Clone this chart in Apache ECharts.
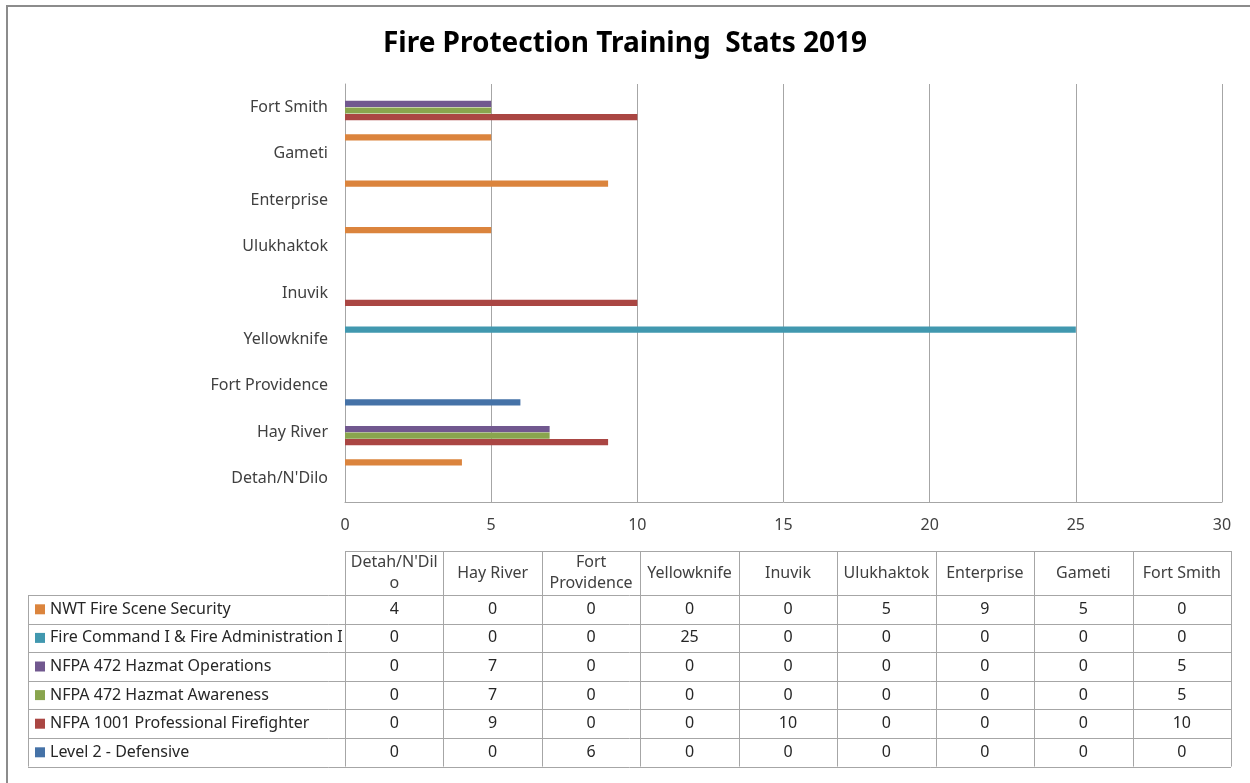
<!DOCTYPE html>
<html>
<head>
<meta charset="utf-8">
<script src="https://cdn.jsdelivr.net/npm/echarts@6/dist/echarts.min.js"></script>
<style>
  html, body { margin: 0; padding: 0; background: #fff; }
  #chart { width: 1250px; height: 783px; }
</style>
</head>
<body>
<div id="chart"></div>
<script>
// categories, bottom to top as plotted
const communities = ["Detah/N'Dilo", "Hay River", "Fort Providence", "Yellowknife", "Inuvik", "Ulukhaktok", "Enterprise", "Gameti", "Fort Smith"];
// header text in the data table (wrapped like the original)
const tableHeaders = ["Detah/N'Dil\no", "Hay River", "Fort\nProvidence", "Yellowknife", "Inuvik", "Ulukhaktok", "Enterprise", "Gameti", "Fort Smith"];

// series in table order (first = top of each band, top row of the table)
const courseNames = [
  "NWT Fire Scene Security",
  "Fire Command I & Fire Administration I",
  "NFPA 472 Hazmat Operations",
  "NFPA 472 Hazmat Awareness",
  "NFPA 1001 Professional Firefighter",
  "Level 2 - Defensive"
];
const fireSceneSecurity = [4, 0, 0, 0, 0, 5, 9, 5, 0];
const fireCommand       = [0, 0, 0, 25, 0, 0, 0, 0, 0];
const hazmatOperations  = [0, 7, 0, 0, 0, 0, 0, 0, 5];
const hazmatAwareness   = [0, 7, 0, 0, 0, 0, 0, 0, 5];
const nfpa1001          = [0, 9, 0, 0, 10, 0, 0, 0, 10];
const level2Defensive   = [0, 0, 6, 0, 0, 0, 0, 0, 0];
const seriesValues = [fireSceneSecurity, fireCommand, hazmatOperations, hazmatAwareness, nfpa1001, level2Defensive];

const colors = ["#DB843D", "#4198AF", "#71588F", "#89A54E", "#AA4643", "#4572A7"];

const FONT = "'Noto Sans', sans-serif";

const chart = echarts.init(document.getElementById("chart"), null, { renderer: "canvas" });

// plot area
const plotLeft = 345, plotRight = 1222, plotTop = 84, plotBottom = 502;

// data table geometry
const tableLeft = 345, tableRight = 1231;
const colW = (tableRight - tableLeft) / communities.length;
const labelLeft = 28;
const headTop = 551, headH = 44, rowH = 28.6;
const gridColor = "#a6a6a6";

const graphics = [];
// outer chart frame
graphics.push({
  type: "rect", silent: true, z: 0,
  shape: { x: 7, y: 6, width: 1260, height: 800 },
  style: { fill: null, stroke: "#8c8c8c", lineWidth: 2 }
});

const tableBottom = headTop + headH + rowH * seriesValues.length;

// header cells
graphics.push({
  type: "line", silent: true,
  shape: { x1: tableLeft, y1: headTop + 0.5, x2: tableRight, y2: headTop + 0.5 },
  style: { stroke: gridColor, lineWidth: 1 }
});
for (let c = 0; c <= communities.length; c++) {
  const x = Math.round(tableLeft + c * colW) + 0.5;
  graphics.push({
    type: "line", silent: true,
    shape: { x1: x, y1: headTop, x2: x, y2: tableBottom },
    style: { stroke: gridColor, lineWidth: 1 }
  });
}
graphics.push({
  type: "line", silent: true,
  shape: { x1: labelLeft + 0.5, y1: headTop + headH, x2: labelLeft + 0.5, y2: tableBottom },
  style: { stroke: gridColor, lineWidth: 1 }
});
for (let r = 0; r <= seriesValues.length; r++) {
  const y = Math.round(headTop + headH + r * rowH) + 0.5;
  graphics.push({
    type: "line", silent: true,
    shape: { x1: labelLeft, y1: y, x2: tableRight, y2: y },
    style: { stroke: gridColor, lineWidth: 1 }
  });
}
tableHeaders.forEach((h, c) => {
  graphics.push({
    type: "text", silent: true,
    x: tableLeft + (c + 0.5) * colW, y: headTop + headH / 2,
    style: { text: h, font: "16px " + FONT, fill: "#404040", align: "center", verticalAlign: "middle", lineHeight: 21 }
  });
});
seriesValues.forEach((vals, r) => {
  const cy = headTop + headH + (r + 0.5) * rowH;
  graphics.push({
    type: "rect", silent: true,
    shape: { x: 35, y: cy - 5, width: 10, height: 10 },
    style: { fill: colors[r] }
  });
  graphics.push({
    type: "text", silent: true,
    x: 50, y: cy,
    style: { text: courseNames[r], font: "16px " + FONT, fill: "#262626", align: "left", verticalAlign: "middle" }
  });
  vals.forEach((v, c) => {
    graphics.push({
      type: "text", silent: true,
      x: tableLeft + (c + 0.5) * colW, y: cy,
      style: { text: String(v), font: "16px " + FONT, fill: "#262626", align: "center", verticalAlign: "middle" }
    });
  });
});

const option = {
  backgroundColor: "#fff",
  animation: false,
  title: {
    text: "Fire Protection Training  Stats 2019",
    left: "center",
    top: 25,
    textStyle: { fontFamily: FONT, fontSize: 28, fontWeight: "bold", color: "#000" }
  },
  grid: {
    left: plotLeft,
    right: 1250 - plotRight,
    top: plotTop,
    bottom: 783 - plotBottom
  },
  xAxis: {
    type: "value",
    min: 0, max: 30, interval: 5,
    axisLine: { show: true, lineStyle: { color: "#a6a6a6" } },
    axisTick: { show: false },
    axisLabel: { fontFamily: FONT, fontSize: 16, color: "#404040", margin: 15 },
    splitLine: { show: true, lineStyle: { color: "#a6a6a6", width: 1 } }
  },
  yAxis: {
    type: "category",
    data: communities,
    axisLine: { show: true, lineStyle: { color: "#a6a6a6" } },
    axisTick: { show: false },
    axisLabel: { fontFamily: FONT, fontSize: 16, color: "#404040", margin: 17 }
  },
  series: seriesValues.map((vals, i) => ({
    name: courseNames[i],
    type: "bar",
    data: vals,
    barGap: "5%",
    barCategoryGap: "16%",
    itemStyle: { color: colors[i] }
  })),
  graphic: graphics
};

chart.setOption(option);
</script>
</body>
</html>
